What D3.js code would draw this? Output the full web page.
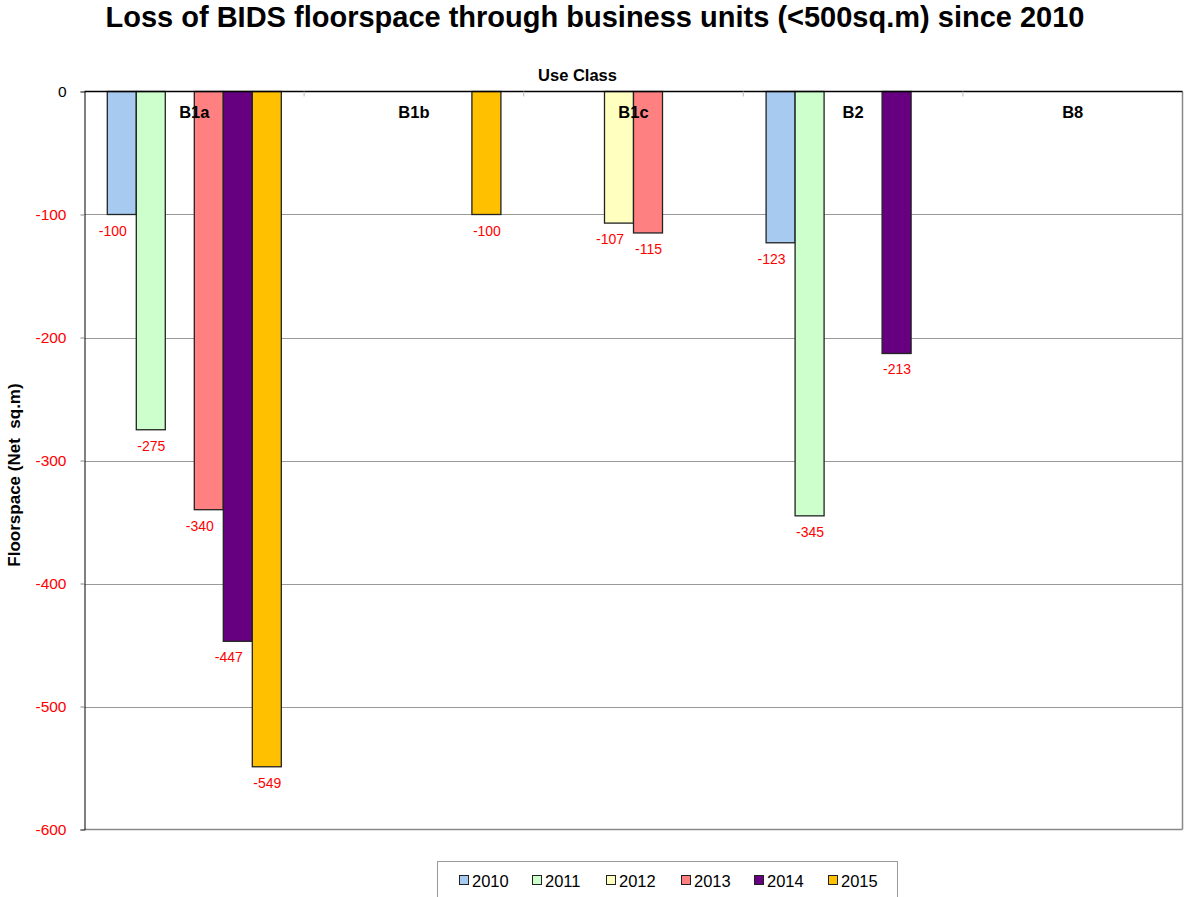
<!DOCTYPE html>
<html><head><meta charset="utf-8">
<script src="https://cdn.jsdelivr.net/npm/d3@7/dist/d3.min.js"></script>
<style>body{margin:0;background:#fff}svg{display:block;font-family:"Liberation Sans",Arial,sans-serif}</style>
</head><body><svg id="c" width="1184" height="897"></svg>
<script>
const categories = ["B1a","B1b","B1c","B2","B8"];
const years = ["2010","2011","2012","2013","2014","2015"];
const v2010 = [-100, null, null, -123, null];
const v2011 = [-275, null, null, -345, null];
const v2012 = [null, null, -107, null, null];
const v2013 = [-340, null, -115, null, null];
const v2014 = [-447, null, null, -213, null];
const v2015 = [-549, -100, null, null, null];
const seriesValues = [v2010, v2011, v2012, v2013, v2014, v2015];
const colors = ["#A6CAF0","#CCFFCC","#FFFFC0","#FF8080","#660080","#FFC000"];
const yTicks = [0,-100,-200,-300,-400,-500,-600];

const svg = d3.select("#c");
const L = 84.5, R = 1182.5, T = 91.5, B = 829.5;
const x0 = d3.scaleBand().domain(categories).range([L, R]).paddingInner(0).paddingOuter(0);
const x1 = d3.scaleBand().domain(years).range([0, x0.bandwidth()]).paddingOuter(0.786).paddingInner(0);
const y = d3.scaleLinear().domain([0, -600]).range([T, B]);

svg.append("text").attr("x", 595).attr("y", 27).attr("text-anchor","middle")
  .attr("font-size", 29).attr("font-weight","bold").text("Loss of BIDS floorspace through business units (<500sq.m) since 2010");

// gridlines
svg.append("g").selectAll("line").data(yTicks.filter(d=>d!==0 && d!==-600)).join("line")
  .attr("x1", L).attr("x2", R).attr("y1", d=>Math.round(y(d))+0.5).attr("y2", d=>Math.round(y(d))+0.5)
  .attr("stroke","#999").attr("stroke-width",1);
svg.append("line").attr("x1",L).attr("x2",R).attr("y1",B).attr("y2",B).attr("stroke","#888").attr("stroke-width",1.5);
svg.append("line").attr("x1",R).attr("x2",R).attr("y1",T).attr("y2",B).attr("stroke","#888").attr("stroke-width",1.5);

// y axis
const yAxis = d3.axisLeft(y).tickValues(yTicks).tickSize(4).tickPadding(14).tickFormat(d => String(d));
const gy = svg.append("g").attr("transform",`translate(${L},0)`).call(yAxis);
gy.select(".domain").attr("stroke","#000");
gy.selectAll(".tick line").attr("stroke","#888");
gy.selectAll(".tick text").attr("font-size",15.5).attr("font-family","Liberation Sans, Arial, sans-serif")
  .attr("fill", d => d===0 ? "#000" : "#FF0000");

svg.append("text").attr("transform",`translate(20,475) rotate(-90)`).attr("text-anchor","middle")
  .attr("font-size",17).attr("font-weight","bold").style("white-space","pre").text("Floorspace (Net  sq.m)");
svg.append("text").attr("x", 577.5).attr("y", 81).attr("text-anchor","middle")
  .attr("font-size",16.5).attr("font-weight","bold").text("Use Class");

// bars
const data = [];
categories.forEach((c,i)=>years.forEach((yr,j)=>{
  const v = seriesValues[j][i];
  if (v !== null) {
    const next = j < years.length-1 ? seriesValues[j+1][i] : null;
    data.push({c, yr, v, color: colors[j], shift: (next !== null && next < v) ? -9 : 0.5});
  }
}));
const bars = svg.append("g");
bars.selectAll("rect").data(data).join("rect")
  .attr("x", d => x0(d.c) + x1(d.yr)).attr("width", x1.bandwidth())
  .attr("y", y(0)).attr("height", d => y(d.v) - y(0))
  .attr("fill", d => d.color).attr("stroke","#222").attr("stroke-width",1.3);
bars.selectAll("text").data(data).join("text")
  .attr("x", d => x0(d.c) + x1(d.yr) + x1.bandwidth()/2 + d.shift)
  .attr("y", d => y(d.v) + 21).attr("text-anchor","middle")
  .attr("font-size",14).attr("fill","#FF0000").text(d => d.v);

// category axis at zero
svg.append("line").attr("x1",L).attr("x2",R).attr("y1",T).attr("y2",T).attr("stroke","#000").attr("stroke-width",1.5);
svg.append("g").selectAll("line").data(categories.slice(1)).join("line")
  .attr("x1", d=>x0(d)).attr("x2", d=>x0(d)).attr("y1",T).attr("y2",T+5).attr("stroke","#bbb");
svg.append("g").selectAll("text").data(categories).join("text")
  .attr("x", d => x0(d) + x0.bandwidth()/2).attr("y", 118).attr("text-anchor","middle")
  .attr("font-size",16.5).attr("font-weight","bold").text(d=>d);

// legend
const lg = svg.append("g");
lg.append("rect").attr("x",437.5).attr("y",861.5).attr("width",460).attr("height",40)
  .attr("fill","#fff").attr("stroke","#999");
const lx = [459, 532, 606, 681, 754, 828];
years.forEach((yr,j)=>{
  lg.append("rect").attr("x",lx[j]+0.5).attr("y",875.5).attr("width",9).attr("height",9)
    .attr("fill",colors[j]).attr("stroke","#222");
  lg.append("text").attr("x",lx[j]+13).attr("y",887).attr("font-size",16.5).text(yr);
});
</script></body></html>
